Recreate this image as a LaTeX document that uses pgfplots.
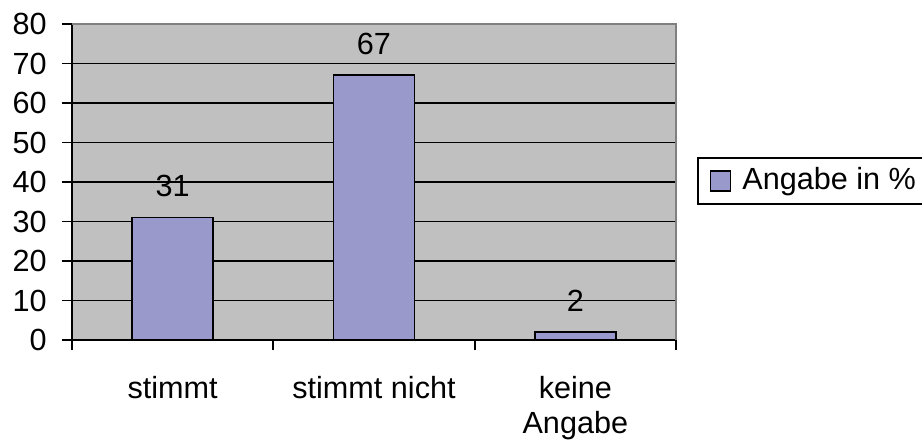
\documentclass[border=0pt]{standalone}
\usepackage{pgfplots}
\pgfplotsset{compat=1.18}
\usepackage{fontspec}
\setmainfont{Liberation Sans}
\definecolor{plotbg}{HTML}{C0C0C0}
\definecolor{barfill}{HTML}{9999CC}
\definecolor{frame}{HTML}{808080}
\begin{document}
\begin{tikzpicture}
\fontsize{15.3}{18}\selectfont
\useasboundingbox (-36pt,-50.5pt) rectangle (425pt,170pt);
\begin{axis}[
  scale only axis,
  width=302pt, height=158pt,
  xmin=0.5, xmax=3.5, ymin=0, ymax=80,
  axis x line*=bottom, axis y line*=left,
  axis line style={black, line width=0.9pt, -},
  axis background/.style={fill=plotbg},
  ytick={0,10,...,80},
  ymajorgrids, major grid style={black, line width=0.9pt},
  tick align=outside,
  major tick length=5pt,
  tick style={black, line width=0.9pt},
  xtick={1,2,3},
  xticklabels={stimmt, stimmt nicht, {keine\\Angabe}},
  x tick style={draw=none},
  minor xtick={0.5,1.5,2.5,3.5},
  minor tick length=5pt,
  minor x tick style={black, line width=0.9pt, draw=black},
  xticklabel style={align=center, anchor=north, inner sep=0pt, yshift=-13pt, font=\fontsize{15.3}{17.5}\selectfont},
  yticklabel style={anchor=east, inner sep=0pt, xshift=-7.5pt},
  /pgf/number format/assume math mode=true,
  ticklabel style={font=\fontsize{15.3}{18}\selectfont},
  ybar, bar width=40.5pt,
  nodes near coords,
  nodes near coords style={anchor=south, inner sep=0pt, yshift=9.75pt, font=\fontsize{15.3}{18}\selectfont, black},
  legend style={at={(1.0348,0.503)}, anchor=west, draw=black, line width=0.9pt, fill=white,
    inner xsep=3.5pt, inner ysep=4.7pt, column sep=5.5pt, nodes={inner sep=0pt},
    font=\fontsize{15.3}{18}\selectfont, legend cell align=left},
  legend image code/.code={\path (0pt,0pt); \draw[#1, line width=0.6pt] (2.5pt,-5pt) rectangle (12.5pt,5pt);},
  clip=false,
]
\addplot[fill=barfill, draw=black, line width=0.9pt] coordinates {(1,31) (2,67) (3,2)};
\addlegendentry{Angabe in \%}
\draw[frame, line width=0.9pt] (rel axis cs:0,1) -- (rel axis cs:1,1) -- (rel axis cs:1,0);
\end{axis}
\end{tikzpicture}
\end{document}
